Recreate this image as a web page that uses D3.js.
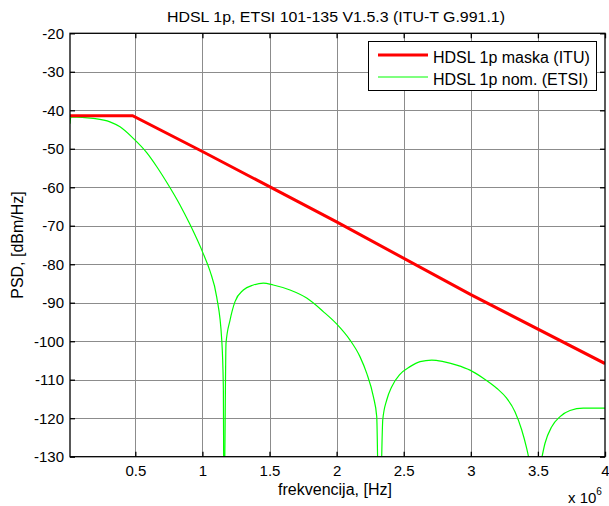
<!DOCTYPE html>
<html><head><meta charset="utf-8">
<script src="https://cdn.jsdelivr.net/npm/d3@7"></script>
<style>
body{margin:0;background:#fff;}
svg{display:block;font-family:"Liberation Sans",Arial,sans-serif;}
</style></head><body>
<svg id="c" width="609" height="506"></svg>
<script>
// Data (frequency in MHz, PSD in dBm/Hz)
const maskFreq = [0.0134, 0.48, 1.0, 2.0, 3.0, 4.0];
const maskPSD  = [-41.4, -41.4, -50.7, -69.0, -87.9, -105.8];

const nomFreq = [0.0134, 0.02, 0.187, 0.311, 0.386, 0.485, 0.585, 0.659, 0.734, 0.833, 0.908, 1.007, 1.057, 1.107, 1.144, 1.156, 1.16,
  1.163, 1.176, 1.206, 1.243, 1.305, 1.38, 1.454, 1.528, 1.653, 1.777, 1.901, 2.0, 2.1, 2.174, 2.224, 2.274, 2.299, 2.312,
  2.327, 2.344, 2.374, 2.411, 2.472, 2.547, 2.622, 2.709, 2.795, 2.895, 2.994, 3.093, 3.193, 3.267, 3.329, 3.379, 3.416, 3.433, 3.48,
  3.528, 3.553, 3.603, 3.665, 3.739, 3.838, 3.987, 4.0];
const nomPSD = [-43.5, -41.7, -42.1, -43.0, -44.3, -47.3, -51.0, -54.6, -58.7, -64.6, -69.7, -77.3, -81.8, -88.6, -99.6, -111.8, -140,
  -140, -100.5, -94.5, -89.7, -86.7, -85.4, -84.9, -85.4, -86.7, -88.8, -92.3, -95.5, -99.7, -104.0, -108.3, -114.4, -119.6, -140,
  -140, -120.4, -115.2, -111.8, -108.6, -106.6, -105.3, -104.9, -105.3, -106.2, -107.5, -109.6, -112.2, -114.8, -118.3, -123.0, -127.8, -130.5, -140,
  -130.5, -126.5, -122.2, -119.6, -118.0, -117.4, -117.4, -117.4];

const xTicks = [0.5, 1, 1.5, 2, 2.5, 3, 3.5, 4];
const yTicks = [-20, -30, -40, -50, -60, -70, -80, -90, -100, -110, -120, -130];

const seriesNames = ["HDSL 1p maska (ITU)", "HDSL 1p nom. (ETSI)"];
const seriesColors = ["#ff0000", "#00ff00"];

const svg = d3.select("#c");
const L = 70, R = 605, T = 33.3, B = 456.7;
const x = d3.scaleLinear().domain([0.0134, 4]).range([L, R]);
const y = d3.scaleLinear().domain([-130, -20]).range([B, T]);

svg.append("rect").attr("x",0).attr("y",0).attr("width",609).attr("height",506).attr("fill","#fff");

// grid
const g = svg.append("g");
g.selectAll(".gx").data(xTicks.filter(d=>d<4)).enter().append("line")
  .attr("x1",d=>Math.round(x(d))+0.5).attr("x2",d=>Math.round(x(d))+0.5).attr("y1",T).attr("y2",B)
  .attr("stroke","#8c8c8c").attr("stroke-width",1);
g.selectAll(".gy").data(yTicks.filter(d=>d>-130 && d<-20)).enter().append("line")
  .attr("y1",d=>Math.round(y(d))+0.5).attr("y2",d=>Math.round(y(d))+0.5).attr("x1",L).attr("x2",R)
  .attr("stroke","#8c8c8c").attr("stroke-width",1);

// clip
svg.append("clipPath").attr("id","clip").append("rect").attr("x",L).attr("y",T).attr("width",R-L).attr("height",B-T);

const line = d3.line().x(d=>x(d[0])).y(d=>y(d[1])).curve(d3.curveMonotoneX);
const nomData = nomFreq.map((f,i)=>[f, nomPSD[i]]);
const maskData = maskFreq.map((f,i)=>[f, maskPSD[i]]);
svg.append("path").attr("clip-path","url(#clip)").attr("d", line(nomData))
  .attr("fill","none").attr("stroke",seriesColors[1]).attr("stroke-width",1.2);
svg.append("path").attr("clip-path","url(#clip)").attr("d", d3.line().x(d=>x(d[0])).y(d=>y(d[1]))(maskData))
  .attr("fill","none").attr("stroke",seriesColors[0]).attr("stroke-width",3);

// axes box
svg.append("rect").attr("x",L).attr("y",T).attr("width",R-L).attr("height",B-T)
  .attr("fill","none").attr("stroke","#000").attr("stroke-width",1.3);

const fmt = d => String(d);
const xAxisB = d3.axisBottom(x).tickValues(xTicks).tickSize(-5).tickPadding(9).tickFormat(fmt);
const xAxisT = d3.axisTop(x).tickValues(xTicks).tickSize(-5).tickFormat("");
const yAxisL = d3.axisLeft(y).tickValues(yTicks).tickSize(-5).tickPadding(6).tickFormat(fmt);
const yAxisR = d3.axisRight(y).tickValues(yTicks).tickSize(-5).tickFormat("");

function style(sel){
  sel.select(".domain").remove();
  sel.selectAll(".tick line").attr("stroke","#000").attr("stroke-width",1.3);
  sel.selectAll(".tick text").attr("fill","#000").attr("font-size","15px")
    .attr("font-family","'Liberation Sans',Arial,sans-serif");
}
svg.append("g").attr("transform",`translate(0,${B})`).call(xAxisB).call(style);
svg.append("g").attr("transform",`translate(0,${T})`).call(xAxisT).call(style);
svg.append("g").attr("transform",`translate(${L},0)`).call(yAxisL).call(style);
svg.append("g").attr("transform",`translate(${R},0)`).call(yAxisR).call(style);

// labels
svg.append("text").attr("x",336).attr("y",22).attr("text-anchor","middle")
  .attr("font-size","15.5px").attr("textLength",338).attr("lengthAdjust","spacingAndGlyphs")
  .text("HDSL 1p, ETSI 101-135 V1.5.3 (ITU-T G.991.1)");
svg.append("text").attr("x",335).attr("y",495).attr("text-anchor","middle")
  .attr("font-size","16px").text("frekvencija, [Hz]");
svg.append("text").attr("transform",`translate(23,${(T+B)/2}) rotate(-90)`).attr("text-anchor","middle")
  .attr("font-size","16px").text("PSD, [dBm/Hz]");
const ex = svg.append("text").attr("x",568).attr("y",502.5).attr("font-size","15px");
ex.append("tspan").text("x 10");
ex.append("tspan").attr("dy",-8).attr("font-size","10px").text("6");

// legend
const lg = svg.append("g");
lg.append("rect").attr("x",368.5).attr("y",41.5).attr("width",228).attr("height",49)
  .attr("fill","#fff").attr("stroke","#000").attr("stroke-width",1);
seriesNames.forEach((n,i)=>{
  const yy = 55 + i*22;
  lg.append("line").attr("x1",378).attr("x2",428).attr("y1",yy).attr("y2",yy)
    .attr("stroke",seriesColors[i]).attr("stroke-width", i===0?3:1.2);
  lg.append("text").attr("x",433).attr("y",yy+8).attr("font-size","16px").text(n);
});
</script>
</body></html>
